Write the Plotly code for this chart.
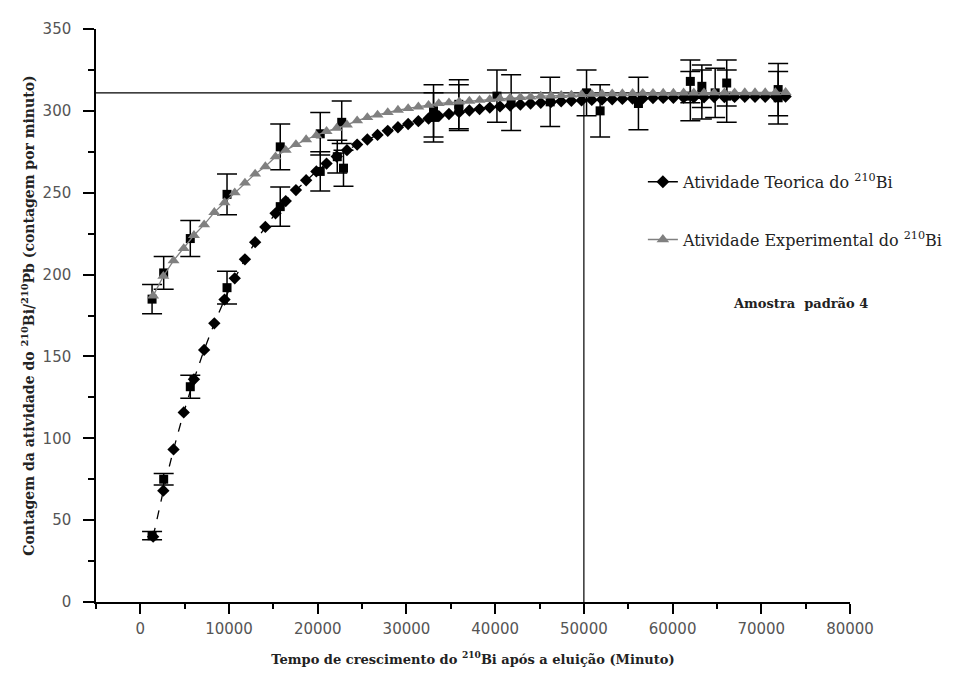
import plotly.graph_objects as go

# ---- data ----
tempo = [1440, 2590, 3740, 4890, 6040, 7190, 8340, 9490, 10640, 11790, 12940, 14090,
         15240, 16390, 17540, 18690, 19840, 20990, 22140, 23290, 24440, 25590, 26740,
         27890, 29040, 30190, 31340, 32490, 33640, 34790, 35940, 37090, 38240, 39390,
         40540, 41690, 42840, 43990, 45140, 46290, 47440, 48590, 49740, 50890, 52040,
         53190, 54340, 55490, 56640, 57790, 58940, 60090, 61240, 62390, 63540, 64690,
         65840, 66990, 68140, 69290, 70440, 71590, 72740]

teorica = [39.9, 68.0, 93.2, 115.8, 136.0, 154.0, 170.2, 184.7, 197.7, 209.3, 219.8, 229.1,
           237.4, 244.9, 251.6, 257.6, 263.0, 267.8, 272.1, 276.0, 279.4, 282.5, 285.3,
           287.8, 290.0, 292.0, 293.7, 295.3, 296.8, 298.1, 299.2, 300.2, 301.1, 302.0,
           302.7, 303.3, 303.9, 304.5, 304.9, 305.4, 305.8, 306.1, 306.4, 306.7, 306.9,
           307.1, 307.3, 307.5, 307.6, 307.8, 307.9, 308.0, 308.1, 308.2, 308.3, 308.4,
           308.4, 308.5, 308.6, 308.6, 308.6, 308.7, 308.7]

experimental = [187, 199, 208.5, 216, 224, 230.5, 238, 244, 250, 256, 261.5, 266,
                272, 276, 279.5, 282.5, 285, 287.5, 289.5, 291.5, 294, 296, 297.5,
                299, 300.5, 301.5, 302.5, 303.5, 304.5, 305, 305.5, 306, 306.5, 307,
                307.5, 308, 308.3, 308.6, 309, 309.2, 309.5, 309.7, 310, 310.2, 310.4,
                310.5, 310.6, 310.7, 310.8, 310.8, 310.9, 310.9, 311, 311, 311, 311.1,
                311.1, 311.1, 311.2, 311.2, 311.2, 311.2, 311.3]

# measured points with error bars
med_x = [1320, 1320, 2630, 2630, 5630, 5630, 9770, 9770, 15770, 15770, 20280, 20280,
         22700, 22200, 22900, 33050, 33050, 35900, 35900, 40200, 41800, 46200, 50300,
         51830, 56150, 62000, 62000, 63300, 63300, 64800, 66100, 66100, 71900, 71900]
med_y = [185, 40.5, 201, 75, 222, 131.5, 249, 192, 278, 241.5, 286, 263,
         293, 272, 265, 300, 296, 304, 302, 309, 305, 305.5, 311,
         300, 304.5, 318, 309, 315, 310, 311, 317, 309, 313, 308]
med_err = [9, 2.5, 10, 3.5, 11, 7, 12.5, 10, 14, 12, 13, 12,
           13, 10, 11, 16, 15, 15, 14, 16, 17, 15, 14,
           16, 16, 13, 15, 13, 15, 15, 14, 16, 16, 16]

patamar = 311       # horizontal reference level
t_ref = 50000       # vertical reference time

nome_teo = "Atividade Teorica do <sup>210</sup>Bi"
nome_exp = "Atividade Experimental do <sup>210</sup>Bi"

serif = "DejaVu Serif"
sans = "DejaVu Sans"

fig = go.Figure()

fig.add_trace(go.Scatter(
    x=med_x, y=med_y, mode="markers",
    marker=dict(symbol="square", size=9, color="black"),
    error_y=dict(type="data", array=med_err, visible=True, color="black",
                 thickness=1.5, width=10),
    showlegend=False, hoverinfo="skip"))

fig.add_trace(go.Scatter(
    x=tempo, y=teorica, mode="lines+markers",
    line=dict(color="black", width=1.3, dash="dash"),
    marker=dict(symbol="diamond", size=9.5, color="black"),
    showlegend=False))

fig.add_trace(go.Scatter(
    x=tempo, y=experimental, mode="lines+markers",
    line=dict(color="#808080", width=1.3),
    marker=dict(symbol="triangle-up", size=10.5, color="#808080"),
    showlegend=False))

# legend-only entries (solid sample lines as in the reference)
fig.add_trace(go.Scatter(
    x=[None], y=[None], mode="lines+markers", name=nome_teo, legendgroup="a",
    line=dict(color="black", width=1.5),
    marker=dict(symbol="diamond", size=10, color="black")))
fig.add_trace(go.Scatter(
    x=[None], y=[None], mode="lines+markers", name=nome_exp, legendgroup="b",
    line=dict(color="#808080", width=1.5),
    marker=dict(symbol="triangle-up", size=11, color="#808080")))

fig.add_shape(type="line", xref="x", yref="y", x0=-5000, x1=72800, y0=patamar, y1=patamar,
              line=dict(color="black", width=1.2), layer="below")
fig.add_shape(type="line", xref="x", yref="y", x0=t_ref, x1=t_ref, y0=0, y1=patamar,
              line=dict(color="black", width=1.2), layer="below")

fig.add_annotation(xref="paper", yref="paper", x=0.9337, y=0.5216, showarrow=False,
                   xanchor="center", yanchor="middle",
                   text="<b>Amostra  padrão 4</b>",
                   font=dict(family=serif, size=13, color="#222"))

fig.update_layout(
    width=973, height=680,
    margin=dict(l=88, r=131, t=15, b=86),
    paper_bgcolor="white", plot_bgcolor="white",
    showlegend=True,
    legend=dict(x=0.7253, y=0.763, xanchor="left", yanchor="top",
                bgcolor="rgba(0,0,0,0)", tracegroupgap=34,
                font=dict(family=serif, size=16, color="#222")),
    xaxis=dict(range=[-5000, 80000], showgrid=False, zeroline=False,
               showline=True, linecolor="black", linewidth=1.5,
               ticks="outside", ticklen=10, tickwidth=1.5, tickcolor="black",
               dtick=10000, tick0=0, tickformat="d", ticklabelstandoff=2,
               minor=dict(ticks="outside", ticklen=5, tickwidth=1.5,
                          tickcolor="black", dtick=5000, tick0=0),
               tickfont=dict(family=sans, size=15, color="#555"),
               title=dict(text="<b>Tempo de crescimento do <sup>210</sup>Bi após a eluição (Minuto)</b>",
                          font=dict(family=serif, size=13, color="#222"), standoff=18)),
    yaxis=dict(range=[0, 350], showgrid=False, zeroline=False,
               showline=True, linecolor="black", linewidth=1.5,
               ticks="outside", ticklen=11, tickwidth=1.5, tickcolor="black",
               dtick=50, tick0=0, ticklabelstandoff=9,
               minor=dict(ticks="outside", ticklen=6, tickwidth=1.5,
                          tickcolor="black", dtick=25, tick0=0),
               tickfont=dict(family=sans, size=15, color="#555"),
               title=dict(text="<b>Contagem da atividade do <sup>210</sup>Bi/<sup>210</sup>Pb (contagem por minuto)</b>",
                          font=dict(family=serif, size=14, color="#222"), standoff=5)),
)

fig.write_html("out.html")
